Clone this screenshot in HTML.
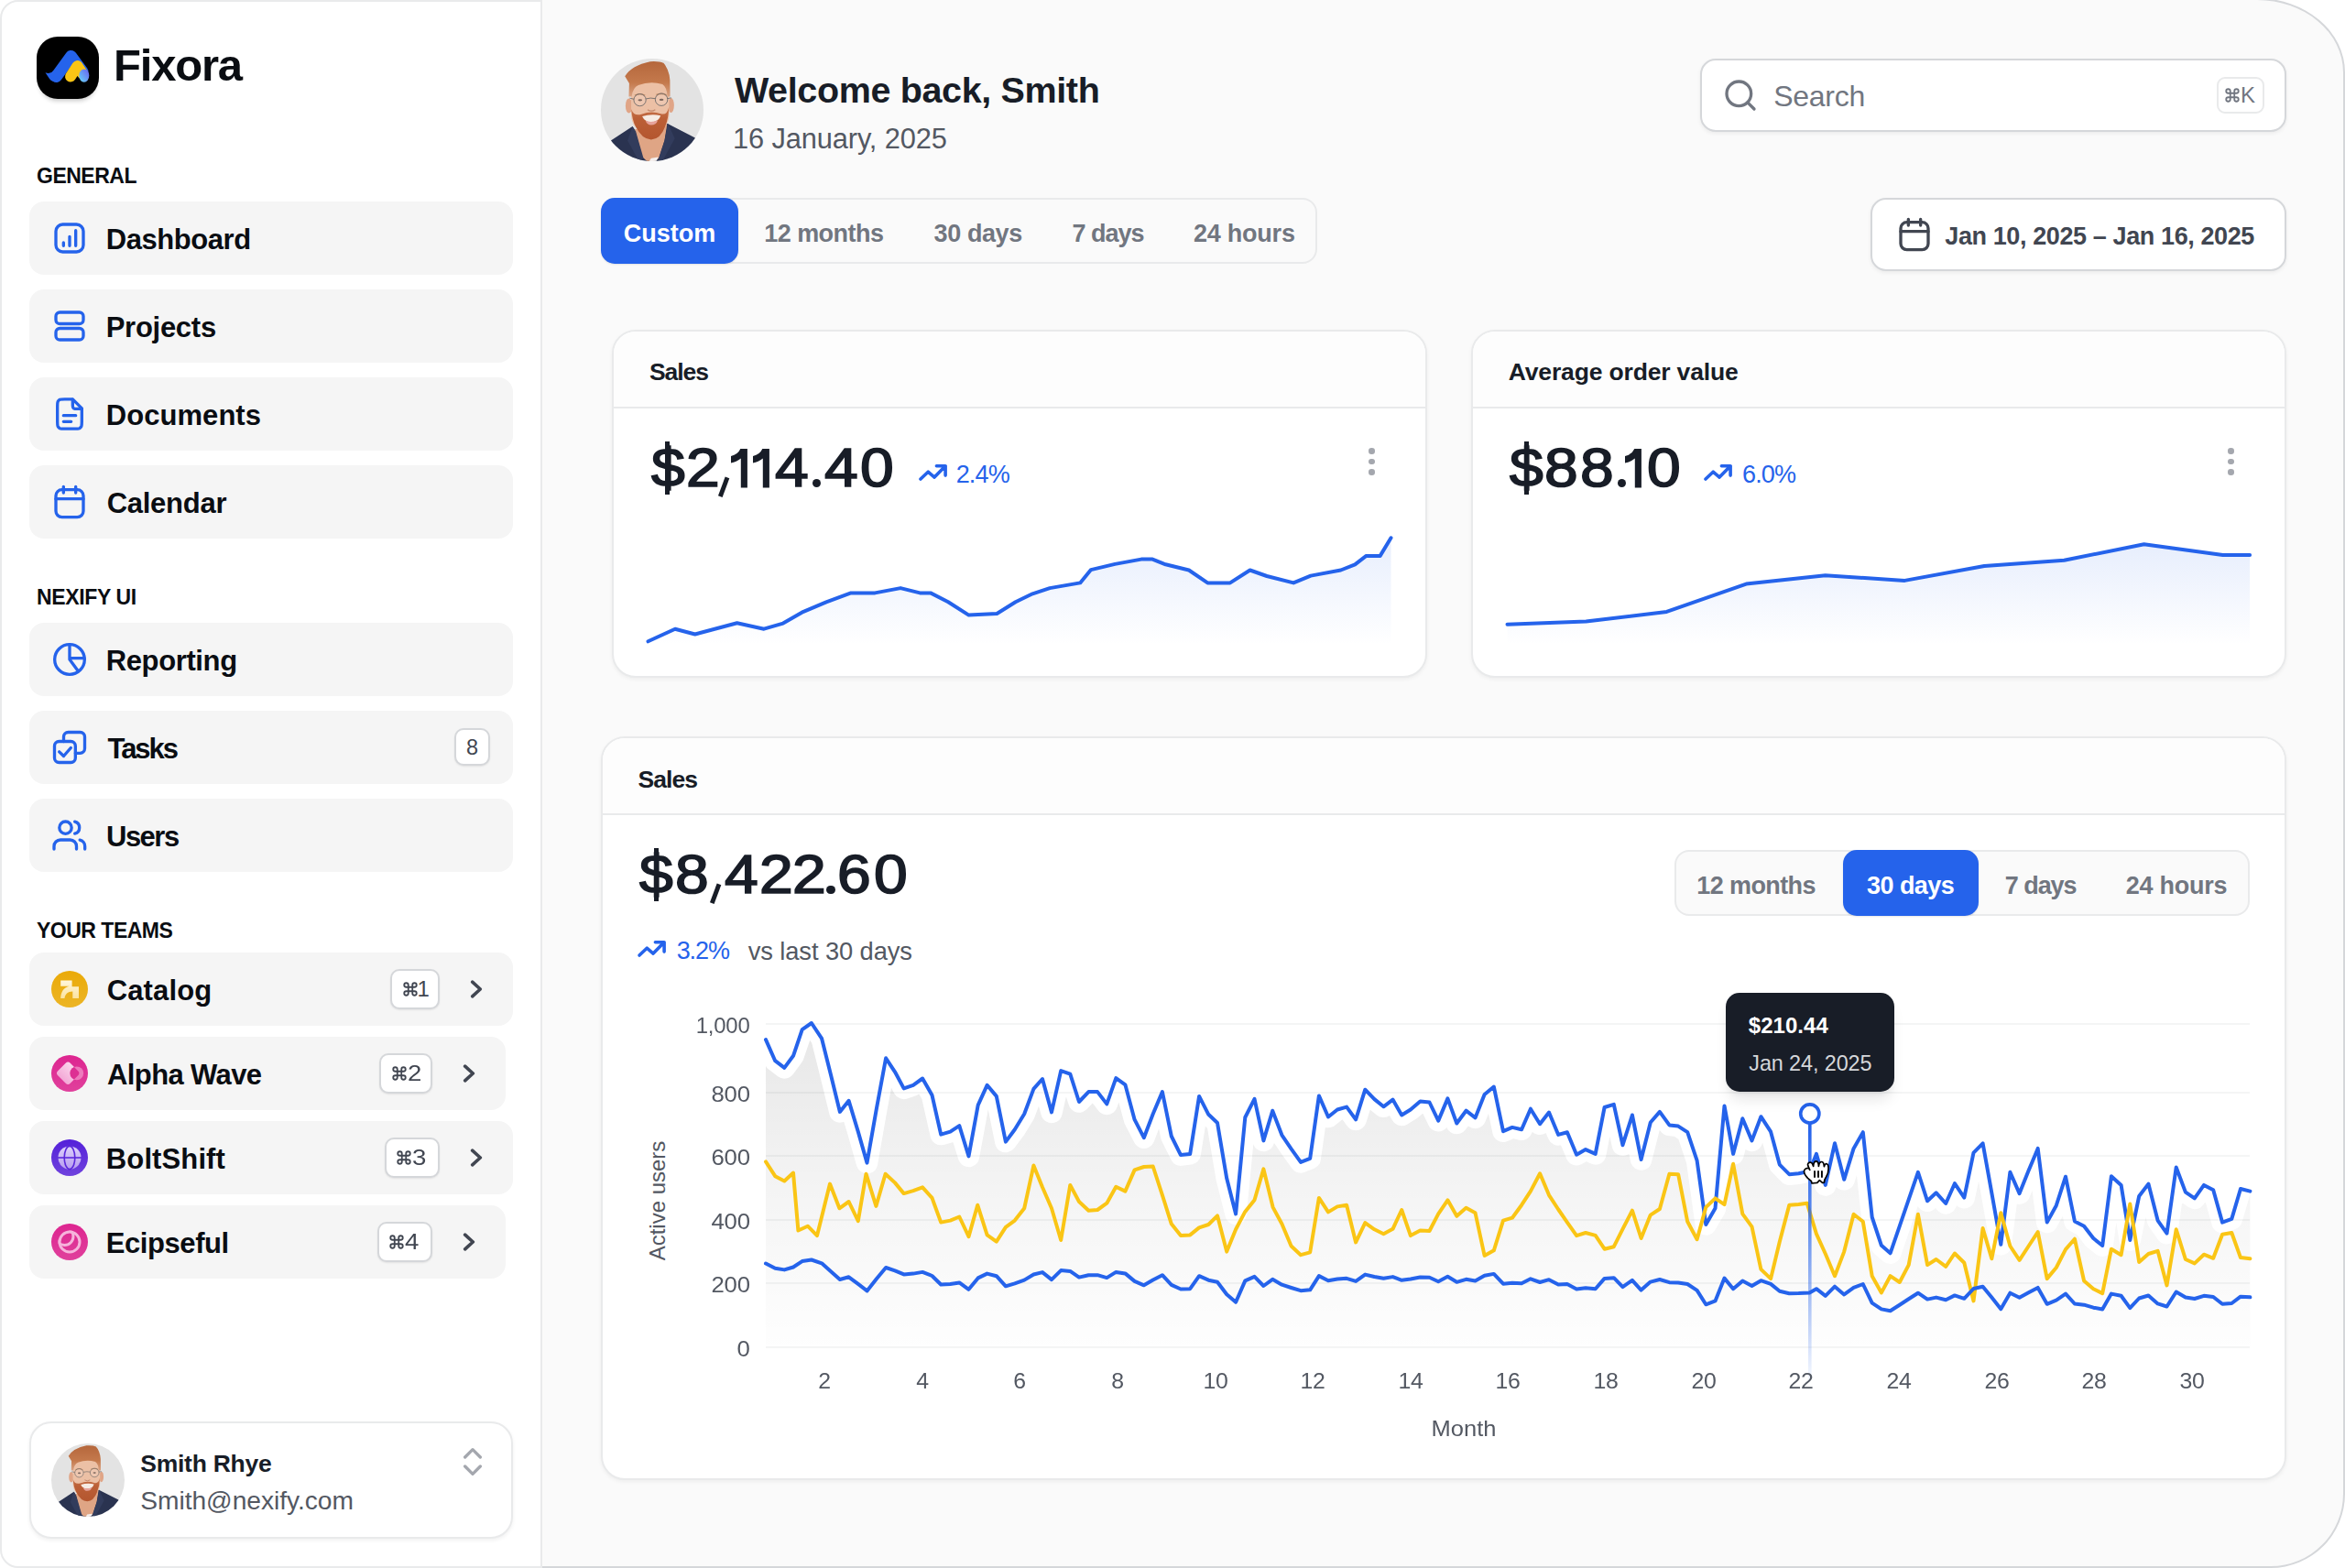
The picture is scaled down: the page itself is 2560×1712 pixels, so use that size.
<!DOCTYPE html>
<html><head><meta charset="utf-8"><title>Fixora Dashboard</title>
<style>
*{box-sizing:border-box;margin:0;padding:0}
html,body{width:2560px;height:1712px;overflow:hidden;background:#fff;font-family:"Liberation Sans",sans-serif}
body{position:relative;font-family:"Liberation Sans",sans-serif;}
.a{position:absolute}
.t{position:absolute;line-height:1;white-space:nowrap}
.nav{position:absolute;left:32px;width:528px;height:80px;background:#f5f5f5;border-radius:16px}
.kbd{position:absolute;background:#fff;border:2px solid #d5d7da;border-radius:10px;box-shadow:0 1px 2px rgba(10,13,18,.08)}
.card{position:absolute;background:#fff;border:2px solid #e9eaeb;border-radius:26px;box-shadow:0 2px 4px rgba(10,13,18,.05);overflow:hidden}
.card .hd{position:absolute;left:0;top:0;right:0;background:#fdfdfd;border-bottom:2px solid #e9eaeb}
</style></head><body>

<div class="a" style="left:590px;top:-2px;width:1970px;height:1714px;background:#fafafa;border:2px solid #d5d7da;border-radius:0 96px 81px 0 / 0 81px 81px 0"></div>
<div class="a" style="left:0;top:0;width:592px;height:1712px;background:#fff;border:2px solid #e9eaeb;border-radius:20px 0 0 20px"></div>
<svg class="a" style="left:34px;top:36px" width="80" height="84" viewBox="-6 -4 80 84">
<defs><linearGradient id="lg1" x1="0" y1="1" x2="1" y2="0"><stop offset="0" stop-color="#67d8f7"/><stop offset="1" stop-color="#6a5cf0"/></linearGradient>
<filter id="ls" x="-20%" y="-20%" width="140%" height="150%"><feGaussianBlur stdDeviation="2.5"/></filter></defs>
<rect x="3" y="8" width="62" height="62" rx="20" fill="#000" opacity=".22" filter="url(#ls)"/>
<rect x="0" y="0" width="68" height="68" rx="23" fill="#000"/>
<path d="M9.5 39.3 Q15 41.5 18.5 37 L24 45 Q18 52 14 46Z" fill="#2563eb"/>
<path d="M21.5 43.5 L37.5 21.5 L50 38.300" stroke="#2563eb" stroke-width="13" stroke-linecap="round" stroke-linejoin="round" fill="none"/>
<path d="M37 43.5 L44.5 32 L50.300 40.800" stroke="#fac515" stroke-width="12" stroke-linecap="round" stroke-linejoin="round" fill="none"/>
<ellipse cx="51.8" cy="42.6" rx="5.5" ry="7.2" fill="url(#lg1)"/>
</svg>
<div class="t" style="left:124px;top:46.95px;font-size:49px;font-weight:700;color:#0a0d12;letter-spacing:-1.2px;">Fixora</div>
<div class="t" style="left:40px;top:181.45px;font-size:23px;font-weight:700;color:#0a0d12;letter-spacing:-0.5px;">GENERAL</div>
<div class="t" style="left:40px;top:641.15px;font-size:23px;font-weight:700;color:#0a0d12;letter-spacing:-0.35px;">NEXIFY UI</div>
<div class="t" style="left:40px;top:1004.85px;font-size:23px;font-weight:700;color:#0a0d12;letter-spacing:-0.5px;">YOUR TEAMS</div>
<div class="nav" style="top:220px"></div>
<svg class="a" style="left:56px;top:240px" width="40" height="40" viewBox="0 0 24 24" fill="none" stroke="#2563eb" stroke-width="2" stroke-linecap="round" stroke-linejoin="round" ><rect x="3" y="3" width="18" height="18" rx="4.5"/><path d="M8 15v2M12 11v6M16 7v10"/></svg>
<div class="t" style="left:115.72999999999999px;top:245.85px;font-size:31px;font-weight:700;color:#0a0d12;letter-spacing:-0.436px;">Dashboard</div>
<div class="nav" style="top:316px"></div>
<svg class="a" style="left:56px;top:336px" width="40" height="40" viewBox="0 0 24 24" fill="none" stroke="#2563eb" stroke-width="2" stroke-linecap="round" stroke-linejoin="round" ><rect x="3" y="3" width="18" height="7.5" rx="2.6"/><rect x="3" y="13.5" width="18" height="7.5" rx="2.6"/></svg>
<div class="t" style="left:115.72999999999999px;top:341.85px;font-size:31px;font-weight:700;color:#0a0d12;letter-spacing:-0.276px;">Projects</div>
<div class="nav" style="top:412px"></div>
<svg class="a" style="left:56px;top:432px" width="40" height="40" viewBox="0 0 24 24" fill="none" stroke="#2563eb" stroke-width="2" stroke-linecap="round" stroke-linejoin="round" ><path d="M14 2.3H8.8c-1.7 0-2.5 0-3.2.3a3 3 0 0 0-1.3 1.3C4 4.6 4 5.4 4 7.100v9.800c0 1.700 0 2.500.3 3.200a3 3 0 0 0 1.300 1.300c.7.300 1.500.300 3.200.300h6.400c1.700 0 2.500 0 3.200-.300a3 3 0 0 0 1.300-1.300c.3-.7.300-1.500.300-3.200V8.300L14 2.300Z"/><path d="M14 2.500V6c0 .9 0 1.400.2 1.700.2.300.4.500.700.700.4.200.8.200 1.700.200h3.200"/><path d="M8 13h8M8 17h5"/></svg>
<div class="t" style="left:115.72999999999999px;top:437.85px;font-size:31px;font-weight:700;color:#0a0d12;letter-spacing:0.059px;">Documents</div>
<div class="nav" style="top:508px"></div>
<svg class="a" style="left:56px;top:528px" width="40" height="40" viewBox="0 0 24 24" fill="none" stroke="#2563eb" stroke-width="2" stroke-linecap="round" stroke-linejoin="round" ><rect x="3" y="4" width="18" height="18" rx="4"/><path d="M3 10h18M8 2v4M16 2v4"/></svg>
<div class="t" style="left:116.66px;top:533.85px;font-size:31px;font-weight:700;color:#0a0d12;letter-spacing:-0.26px;">Calendar</div>
<div class="nav" style="top:680px"></div>
<svg class="a" style="left:56px;top:700px" width="40" height="40" viewBox="0 0 24 24" fill="none" stroke="#2563eb" stroke-width="2" stroke-linecap="round" stroke-linejoin="round" ><circle cx="12" cy="12" r="9.800"/><path d="M12 2.200V12l5.600 7.700M12 11.200h9.700"/></svg>
<div class="t" style="left:115.72999999999999px;top:705.85px;font-size:31px;font-weight:700;color:#0a0d12;letter-spacing:-0.372px;">Reporting</div>
<div class="nav" style="top:776px"></div>
<svg class="a" style="left:56px;top:796px" width="40" height="40" viewBox="0 0 24 24" fill="none" stroke="#2563eb" stroke-width="2" stroke-linecap="round" stroke-linejoin="round" ><path d="M8.100 8.100V5.100a3 3 0 0 1 3-3h7.800a3 3 0 0 1 3 3v7.700a3 3 0 0 1-3 3h-3.100"/><rect x="2.100" y="8.100" width="13.700" height="13.800" rx="3"/><path d="M5.200 14.900l2.900 2.800 4.700-5.400"/></svg>
<div class="t" style="left:117.58999999999999px;top:801.85px;font-size:31px;font-weight:700;color:#0a0d12;letter-spacing:-2.052px;">Tasks</div>
<div class="nav" style="top:872px"></div>
<svg class="a" style="left:56px;top:892px" width="40" height="40" viewBox="0 0 24 24" fill="none" stroke="#2563eb" stroke-width="2" stroke-linecap="round" stroke-linejoin="round" ><path d="M16.500 21v-1.800a4.200 4.200 0 0 0-4.200-4.200H6a4.200 4.200 0 0 0-4.200 4.200V21"/><circle cx="9.300" cy="7" r="4"/><path d="M22 21v-1.800a4.200 4.200 0 0 0-3.300-4.100"/><path d="M15.400 3.130a4 4 0 0 1 0 7.750"/></svg>
<div class="t" style="left:116.03999999999999px;top:897.85px;font-size:31px;font-weight:700;color:#0a0d12;letter-spacing:-1.52px;">Users</div>
<div class="kbd" style="left:496px;top:795px;width:39px;height:41px"></div>
<div class="t" style="left:215.5px;width:600px;text-align:center;top:805.32px;font-size:23.5px;font-weight:400;color:#414651;">8</div>
<div class="nav" style="top:1040px;width:528px"></div>
<svg class="a" style="left:56px;top:1060px" width="40" height="40" viewBox="0 0 40 40"><defs><linearGradient id="g1" x1="0" y1="0" x2="0" y2="1"><stop offset="0" stop-color="#eaaa08"/><stop offset="1" stop-color="#ecb526"/></linearGradient><linearGradient id="g1b" x1="0" y1="0" x2="0" y2="1"><stop offset="0" stop-color="#fff6dc"/><stop offset="1" stop-color="#fbe3a0"/></linearGradient></defs><circle cx="20" cy="20" r="20" fill="url(#g1)"/><path d="M10.200 10.500H22.600V17.200H30V30H23.300V22.500C18 22.600 15 25.500 14.500 30H10.200C10.400 23 13.500 18.500 19.500 16.800H10.200Z" fill="url(#g1b)"/></svg>
<div class="t" style="left:116.76px;top:1065.95px;font-size:31px;font-weight:700;color:#0a0d12;letter-spacing:0.123px;">Catalog</div>
<div class="kbd" style="left:426px;top:1058px;width:54px;height:44px"></div>
<svg class="a" style="left:438.5px;top:1071px" width="18" height="18" viewBox="0 0 24 24" fill="none" stroke="#414651" stroke-width="2.400" stroke-linecap="round" stroke-linejoin="round"><path d="M15 6v12a3 3 0 1 0 3-3H6a3 3 0 1 0 3 3V6a3 3 0 1 0-3 3h12a3 3 0 1 0-3-3"/></svg>
<div class="t" style="left:455.5px;top:1068.10px;font-size:24px;font-weight:400;color:#414651;">1</div>
<svg class="a" style="left:500.29999999999995px;top:1060px" width="40" height="40" viewBox="0 0 24 24" fill="none" stroke="#414651" stroke-width="2.15" stroke-linecap="round" stroke-linejoin="round" ><path d="M9.400 16.700L14.600 12L9.400 7.300"/></svg>
<div class="nav" style="top:1132px;width:520px"></div>
<svg class="a" style="left:56px;top:1152px" width="40" height="40" viewBox="0 0 40 40"><defs><linearGradient id="g2" x1="0" y1="0" x2="0" y2="1"><stop offset="0" stop-color="#dd2590"/><stop offset="1" stop-color="#e0409c"/></linearGradient><linearGradient id="g2b" x1="0" y1="0" x2="0" y2="1"><stop offset="0" stop-color="#fbd5ec"/><stop offset="1" stop-color="#f3a8d6"/></linearGradient><clipPath id="c2"><rect x="8.600" y="10.200" width="19.200" height="19.200" rx="3.600" transform="rotate(45 18.200 19.800)"/></clipPath></defs><circle cx="20" cy="20" r="20" fill="url(#g2)"/><rect x="8.600" y="10.200" width="19.200" height="19.200" rx="3.600" transform="rotate(45 18.200 19.800)" fill="url(#g2b)"/><circle cx="27.800" cy="19.800" r="7.400" fill="#f08cc6" opacity=".8"/><circle cx="27.800" cy="19.800" r="7.400" fill="#dd2f93" clip-path="url(#c2)"/></svg>
<div class="t" style="left:117.07px;top:1157.95px;font-size:31px;font-weight:700;color:#0a0d12;letter-spacing:-0.619px;">Alpha Wave</div>
<div class="kbd" style="left:414px;top:1150px;width:58px;height:44px"></div>
<svg class="a" style="left:426.5px;top:1163px" width="18" height="18" viewBox="0 0 24 24" fill="none" stroke="#414651" stroke-width="2.400" stroke-linecap="round" stroke-linejoin="round"><path d="M15 6v12a3 3 0 1 0 3-3H6a3 3 0 1 0 3 3V6a3 3 0 1 0-3 3h12a3 3 0 1 0-3-3"/></svg>
<div class="t" style="left:444.5px;top:1160.10px;font-size:24px;font-weight:400;color:#414651;transform:scaleX(1.15);transform-origin:0 50%;">2</div>
<svg class="a" style="left:492.29999999999995px;top:1152px" width="40" height="40" viewBox="0 0 24 24" fill="none" stroke="#414651" stroke-width="2.15" stroke-linecap="round" stroke-linejoin="round" ><path d="M9.400 16.700L14.600 12L9.400 7.300"/></svg>
<div class="nav" style="top:1224px;width:528px"></div>
<svg class="a" style="left:56px;top:1244px" width="40" height="40" viewBox="0 0 40 40"><defs><linearGradient id="g3" x1="0" y1="0" x2="0" y2="1"><stop offset="0" stop-color="#5420d9"/><stop offset="1" stop-color="#6f42dd"/></linearGradient><linearGradient id="g3b" x1="0" y1="0" x2="0" y2="1"><stop offset="0" stop-color="#ddd1fb"/><stop offset="1" stop-color="#b79cf0"/></linearGradient></defs><circle cx="20" cy="20" r="20" fill="url(#g3)"/><circle cx="20" cy="20" r="12.600" fill="url(#g3b)"/><ellipse cx="20" cy="20" rx="5.800" ry="12.600" fill="none" stroke="#5b28db" stroke-width="1.600"/><path d="M7 20H33" stroke="#5b28db" stroke-width="1.600"/></svg>
<div class="t" style="left:115.83px;top:1249.95px;font-size:31px;font-weight:700;color:#0a0d12;letter-spacing:0.115px;">BoltShift</div>
<div class="kbd" style="left:419.5px;top:1242px;width:60.5px;height:44px"></div>
<svg class="a" style="left:432.0px;top:1255px" width="18" height="18" viewBox="0 0 24 24" fill="none" stroke="#414651" stroke-width="2.400" stroke-linecap="round" stroke-linejoin="round"><path d="M15 6v12a3 3 0 1 0 3-3H6a3 3 0 1 0 3 3V6a3 3 0 1 0-3 3h12a3 3 0 1 0-3-3"/></svg>
<div class="t" style="left:450.0px;top:1252.10px;font-size:24px;font-weight:400;color:#414651;transform:scaleX(1.15);transform-origin:0 50%;">3</div>
<svg class="a" style="left:500.29999999999995px;top:1244px" width="40" height="40" viewBox="0 0 24 24" fill="none" stroke="#414651" stroke-width="2.15" stroke-linecap="round" stroke-linejoin="round" ><path d="M9.400 16.700L14.600 12L9.400 7.300"/></svg>
<div class="nav" style="top:1316px;width:520px"></div>
<svg class="a" style="left:56px;top:1336px" width="40" height="40" viewBox="0 0 40 40"><defs><linearGradient id="g4" x1="0" y1="0" x2="0" y2="1"><stop offset="0" stop-color="#dd2590"/><stop offset="1" stop-color="#e0409c"/></linearGradient><clipPath id="c4"><circle cx="20" cy="20" r="12.500"/></clipPath></defs><circle cx="20" cy="20" r="20" fill="url(#g4)"/><circle cx="20" cy="20" r="11" fill="none" stroke="#f6b3db" stroke-width="3"/><circle cx="14.500" cy="14" r="9.500" fill="none" stroke="#f6b3db" stroke-width="3" clip-path="url(#c4)"/></svg>
<div class="t" style="left:115.83px;top:1341.95px;font-size:31px;font-weight:700;color:#0a0d12;letter-spacing:-0.437px;">Ecipseful</div>
<div class="kbd" style="left:411.5px;top:1334px;width:60.5px;height:44px"></div>
<svg class="a" style="left:424.0px;top:1347px" width="18" height="18" viewBox="0 0 24 24" fill="none" stroke="#414651" stroke-width="2.400" stroke-linecap="round" stroke-linejoin="round"><path d="M15 6v12a3 3 0 1 0 3-3H6a3 3 0 1 0 3 3V6a3 3 0 1 0-3 3h12a3 3 0 1 0-3-3"/></svg>
<div class="t" style="left:442.0px;top:1344.10px;font-size:24px;font-weight:400;color:#414651;transform:scaleX(1.15);transform-origin:0 50%;">4</div>
<svg class="a" style="left:492.29999999999995px;top:1336px" width="40" height="40" viewBox="0 0 24 24" fill="none" stroke="#414651" stroke-width="2.15" stroke-linecap="round" stroke-linejoin="round" ><path d="M9.400 16.700L14.600 12L9.400 7.300"/></svg>
<div class="a" style="left:32px;top:1552px;width:528px;height:128px;background:#fff;border:2px solid #e9eaeb;border-radius:24px;box-shadow:0 2px 4px rgba(10,13,18,.06)"></div>
<svg class="a" style="left:56px;top:1576px" width="80" height="80" viewBox="0 0 100 100"><defs><clipPath id="ava"><circle cx="50" cy="50" r="50"/></clipPath>
<linearGradient id="hra" x1="0" y1="0" x2="0" y2="1"><stop offset="0" stop-color="#b5673c"/><stop offset=".6" stop-color="#c4794c"/><stop offset="1" stop-color="#d9a384"/></linearGradient>
<linearGradient id="bda" x1="0" y1="0" x2="0" y2="1"><stop offset="0" stop-color="#c9784f"/><stop offset=".35" stop-color="#bb5f36"/><stop offset="1" stop-color="#b4562f"/></linearGradient></defs>
<g clip-path="url(#ava)"><rect width="100" height="100" fill="#e3e3e3"/>
<path d="M0 100V87L10 79.700L30.800 66L34 71L65 63.500L91 76.700L100 83V100Z" fill="#2a3350"/>
<path d="M33 69L64.500 64L62 80L56.500 97L52 100H45L40.500 96Z" fill="#dfa585"/>
<path d="M49 97L56 96L54 100H47Z" fill="#f4f0ee"/>
<path d="M30.800 66L34 71L41.500 97L37 100L26 80Z" fill="#323c5c"/><path d="M65.400 63.200L62 80L56 98L60 100L72 78Z" fill="#323c5c"/>
<ellipse cx="27.300" cy="46" rx="3.300" ry="7.200" fill="#e0a587"/><ellipse cx="68.300" cy="45.500" rx="3" ry="7.200" fill="#e0a587"/>
<path d="M29.500 30Q30 21 48 21Q66 21 66.500 30V55Q66 70 48 75Q30 70 29.500 55Z" fill="#ecc0a5"/>
<path d="M27.200 37L27.600 24L23.400 17.200Q30 6.500 48 2.900Q57 2.300 61 4.500L60 3Q66.500 10 67.300 21L67.500 37L64.700 37Q64.500 28 60 25Q48 21.500 36.500 26Q31 28.500 30 37Z" fill="url(#hra)"/>
<path d="M29.600 49Q30.500 60 34 66.500Q40 78.500 49 79Q58 78.500 62.500 66.500Q66 58 66.300 47Q64.500 55.500 58.500 53.800Q49 50.500 39.500 54.300Q32 56.500 29.600 49Z" fill="url(#bda)"/>
<path d="M40.300 56.200Q49 53.800 58.200 55.500Q56.500 61.500 49 62Q42.500 61.500 40.300 56.200Z" fill="#f6ece4"/>
<path d="M43.500 60.500Q49 62.800 55.500 60Q54 64.800 49 64.800Q45 64.800 43.500 60.500Z" fill="#e6a29a"/>
<path d="M33 35.800Q38 33.600 43 35.800M54 35.300Q59 33.300 64 35.400" stroke="#c08a66" stroke-width="1.300" fill="none"/>
<ellipse cx="38.200" cy="40.500" rx="2.100" ry="1" fill="#6b5348"/><ellipse cx="59" cy="40.100" rx="2.100" ry="1" fill="#6b5348"/>
<path d="M45.500 49.800Q49 52.300 53 49.800" stroke="#c48a6e" stroke-width="1.200" fill="none"/>
<circle cx="38" cy="40.300" r="5.900" fill="#fff" fill-opacity=".12" stroke="#5d5d60" stroke-width=".7"/><circle cx="59" cy="39.900" r="6" fill="#fff" fill-opacity=".12" stroke="#5d5d60" stroke-width=".7"/><path d="M43.900 39.200Q48.500 37.800 53 39M32.100 39.500L28 38.500M65 39L68.500 38.200" stroke="#5d5d60" stroke-width=".7" fill="none"/>
</g></svg>
<div class="t" style="left:153.30500000000004px;top:1585.07px;font-size:26.5px;font-weight:700;color:#181d27;letter-spacing:-0.262px;">Smith Rhye</div>
<div class="t" style="left:153.25400000000002px;top:1624.23px;font-size:28.2px;font-weight:400;color:#535862;letter-spacing:-0.045px;">Smith@nexify.com</div>
<svg class="a" style="left:496px;top:1576px" width="40" height="40" viewBox="0 0 24 24" fill="none" stroke="#a4a7ae" stroke-width="2" stroke-linecap="round" stroke-linejoin="round" ><path d="M7 15l5 5 5-5M7 9l5-5 5 5"/></svg>
<svg class="a" style="left:656px;top:64px" width="112" height="112" viewBox="0 0 100 100"><defs><clipPath id="avb"><circle cx="50" cy="50" r="50"/></clipPath>
<linearGradient id="hrb" x1="0" y1="0" x2="0" y2="1"><stop offset="0" stop-color="#b5673c"/><stop offset=".6" stop-color="#c4794c"/><stop offset="1" stop-color="#d9a384"/></linearGradient>
<linearGradient id="bdb" x1="0" y1="0" x2="0" y2="1"><stop offset="0" stop-color="#c9784f"/><stop offset=".35" stop-color="#bb5f36"/><stop offset="1" stop-color="#b4562f"/></linearGradient></defs>
<g clip-path="url(#avb)"><rect width="100" height="100" fill="#e3e3e3"/>
<path d="M0 100V87L10 79.700L30.800 66L34 71L65 63.500L91 76.700L100 83V100Z" fill="#2a3350"/>
<path d="M33 69L64.500 64L62 80L56.500 97L52 100H45L40.500 96Z" fill="#dfa585"/>
<path d="M49 97L56 96L54 100H47Z" fill="#f4f0ee"/>
<path d="M30.800 66L34 71L41.500 97L37 100L26 80Z" fill="#323c5c"/><path d="M65.400 63.200L62 80L56 98L60 100L72 78Z" fill="#323c5c"/>
<ellipse cx="27.300" cy="46" rx="3.300" ry="7.200" fill="#e0a587"/><ellipse cx="68.300" cy="45.500" rx="3" ry="7.200" fill="#e0a587"/>
<path d="M29.500 30Q30 21 48 21Q66 21 66.500 30V55Q66 70 48 75Q30 70 29.500 55Z" fill="#ecc0a5"/>
<path d="M27.200 37L27.600 24L23.400 17.200Q30 6.500 48 2.900Q57 2.300 61 4.500L60 3Q66.500 10 67.300 21L67.500 37L64.700 37Q64.500 28 60 25Q48 21.500 36.500 26Q31 28.500 30 37Z" fill="url(#hrb)"/>
<path d="M29.600 49Q30.500 60 34 66.500Q40 78.500 49 79Q58 78.500 62.500 66.500Q66 58 66.300 47Q64.500 55.500 58.500 53.800Q49 50.500 39.500 54.300Q32 56.500 29.600 49Z" fill="url(#bdb)"/>
<path d="M40.300 56.200Q49 53.800 58.200 55.500Q56.500 61.500 49 62Q42.500 61.500 40.300 56.200Z" fill="#f6ece4"/>
<path d="M43.500 60.500Q49 62.800 55.500 60Q54 64.800 49 64.800Q45 64.800 43.500 60.500Z" fill="#e6a29a"/>
<path d="M33 35.800Q38 33.600 43 35.800M54 35.300Q59 33.300 64 35.400" stroke="#c08a66" stroke-width="1.300" fill="none"/>
<ellipse cx="38.200" cy="40.500" rx="2.100" ry="1" fill="#6b5348"/><ellipse cx="59" cy="40.100" rx="2.100" ry="1" fill="#6b5348"/>
<path d="M45.500 49.800Q49 52.300 53 49.800" stroke="#c48a6e" stroke-width="1.200" fill="none"/>
<circle cx="38" cy="40.300" r="5.900" fill="#fff" fill-opacity=".12" stroke="#5d5d60" stroke-width=".7"/><circle cx="59" cy="39.900" r="6" fill="#fff" fill-opacity=".12" stroke="#5d5d60" stroke-width=".7"/><path d="M43.900 39.200Q48.500 37.800 53 39M32.100 39.500L28 38.500M65 39L68.500 38.200" stroke="#5d5d60" stroke-width=".7" fill="none"/>
</g></svg>
<div class="t" style="left:801.9px;top:78.93px;font-size:39.5px;font-weight:700;color:#181d27;letter-spacing:-0.361px;">Welcome back, Smith</div>
<div class="t" style="left:800.052px;top:136.82px;font-size:30.8px;font-weight:400;color:#535862;letter-spacing:-0.127px;">16 January, 2025</div>
<div class="a" style="left:1856px;top:64px;width:640px;height:80px;background:#fff;border:2px solid #d5d7da;border-radius:17px;box-shadow:0 2px 4px rgba(10,13,18,.06)"></div>
<svg class="a" style="left:1880.2px;top:83.8px" width="40" height="40" viewBox="0 0 24 24" fill="none" stroke="#717680" stroke-width="2" stroke-linecap="round" stroke-linejoin="round" ><circle cx="11" cy="11" r="8"/><path d="M21 21l-4.300-4.300"/></svg>
<div class="t" style="left:1936.34px;top:88.60px;font-size:32px;font-weight:400;color:#717680;letter-spacing:-0.298px;">Search</div>
<div class="a" style="left:2420px;top:84px;width:52px;height:40px;background:#fff;border:2px solid #e9eaeb;border-radius:9px"></div>
<svg class="a" style="left:2427.500px;top:95px" width="18" height="18" viewBox="0 0 24 24" fill="none" stroke="#717680" stroke-width="2.400" stroke-linecap="round" stroke-linejoin="round"><path d="M15 6v12a3 3 0 1 0 3-3H6a3 3 0 1 0 3 3V6a3 3 0 1 0-3 3h12a3 3 0 1 0-3-3"/></svg>
<div class="t" style="left:2446px;top:92.40px;font-size:24px;font-weight:400;color:#717680;">K</div>
<div class="a" style="left:656px;top:216px;width:782px;height:72px;background:#fafafa;border:2px solid #e9eaeb;border-radius:16px"></div>
<div class="a" style="left:656px;top:216px;width:150px;height:72px;background:#2563eb;border-radius:15px;box-shadow:0 1px 2px rgba(10,13,18,.1)"></div>
<div class="t" style="left:680.8199999999999px;top:242.45px;font-size:27px;font-weight:700;color:#fff;letter-spacing:-0.028px;">Custom</div>
<div class="t" style="left:834.28px;top:242.45px;font-size:27px;font-weight:700;color:#717680;letter-spacing:-0.55px;">12 months</div>
<div class="t" style="left:1019.56px;top:242.45px;font-size:27px;font-weight:700;color:#717680;letter-spacing:-0.395px;">30 days</div>
<div class="t" style="left:1170.52px;top:242.45px;font-size:27px;font-weight:700;color:#717680;letter-spacing:-1.022px;">7 days</div>
<div class="t" style="left:1302.99px;top:242.45px;font-size:27px;font-weight:700;color:#717680;letter-spacing:-0.229px;">24 hours</div>
<div class="a" style="left:2042px;top:216px;width:454px;height:80px;background:#fff;border:2px solid #d5d7da;border-radius:17px;box-shadow:0 2px 4px rgba(10,13,18,.06)"></div>
<svg class="a" style="left:2069.6px;top:236px" width="40" height="40" viewBox="0 0 24 24" fill="none" stroke="#414651" stroke-width="2" stroke-linecap="round" stroke-linejoin="round" ><rect x="3" y="4" width="18" height="18" rx="4"/><path d="M3 10h18M8 2v4M16 2v4"/></svg>
<div class="t" style="left:2123.26px;top:245.45px;font-size:27px;font-weight:700;color:#414651;letter-spacing:-0.39px;">Jan 10, 2025 – Jan 16, 2025</div>
<div class="card" style="left:668px;top:360px;width:890px;height:380px"><div class="hd" style="height:84px"></div>
<svg class="a" style="left:-2px;top:-2px" width="890" height="380"><defs><linearGradient id="sg1" gradientUnits="userSpaceOnUse" x1="0" y1="227.3" x2="0" y2="344.3"><stop offset="0" stop-color="#2563eb" stop-opacity=".11"/><stop offset="1" stop-color="#2563eb" stop-opacity="0"/></linearGradient></defs><path d="M39.5 340.3 L69.0 326.7 L90.7 332.5 L136.6 320.2 L166.0 326.7 L186.9 320.6 L207.4 308.7 L234.0 297.3 L261.0 287.4 L287.2 287.4 L315.1 282.1 L336.3 287.4 L347.8 287.4 L367.1 297.3 L389.6 311.6 L420.3 310.0 L440.7 297.3 L459.2 288.3 L478.0 282.1 L511.2 276.4 L523.0 262.1 L549.2 255.9 L577.9 250.6 L590.2 250.6 L604.5 256.3 L629.9 262.5 L650.3 276.4 L674.9 276.4 L696.6 262.5 L715.0 269.0 L744.1 276.4 L762.9 268.6 L795.7 262.5 L811.2 256.3 L823.5 246.9 L838.7 246.9 L850.5 227.3 L850.5 344.3 L39.5 344.3Z" fill="url(#sg1)"/><path d="M39.5 340.3 L69.0 326.7 L90.7 332.5 L136.6 320.2 L166.0 326.7 L186.9 320.6 L207.4 308.7 L234.0 297.3 L261.0 287.4 L287.2 287.4 L315.1 282.1 L336.3 287.4 L347.8 287.4 L367.1 297.3 L389.6 311.6 L420.3 310.0 L440.7 297.3 L459.2 288.3 L478.0 282.1 L511.2 276.4 L523.0 262.1 L549.2 255.9 L577.9 250.6 L590.2 250.6 L604.5 256.3 L629.9 262.5 L650.3 276.4 L674.9 276.4 L696.6 262.5 L715.0 269.0 L744.1 276.4 L762.9 268.6 L795.7 262.5 L811.2 256.3 L823.5 246.9 L838.7 246.9 L850.5 227.3" fill="none" stroke="#2563eb" stroke-width="4" stroke-linecap="round" stroke-linejoin="round"/></svg></div>
<div class="t" style="left:708.905px;top:393.18px;font-size:26.5px;font-weight:700;color:#181d27;letter-spacing:-1.027px;">Sales</div>
<div class="t" style="left:710.5px;top:480.9px;font-size:60px;color:#181d27;-webkit-text-stroke:1.700px #181d27;transform:scaleX(1.100);transform-origin:0 0">$</div>
<div class="a" style="left:725.9px;top:482.2px;width:5.300px;height:57.600px;background:#181d27"></div>
<div class="t" style="left:748.9px;top:480.9px;font-size:60px;color:#181d27;-webkit-text-stroke:1.700px #181d27;transform:scaleX(1.100);transform-origin:0 0">2</div>
<svg class="a" style="left:784.4px;top:520.1px" width="14" height="24" viewBox="0 0 14 24"><path d="M7.700 0.500L12.300 2.200L4.600 23L0 21.300Z" fill="#181d27"/></svg>
<svg class="a" style="left:797.9px;top:489.7px" width="19" height="43" viewBox="0 0 19 43"><path d="M10.300 0H17.900V42.400H10.800V10.600Q6 14.600 0 15.400V7.900Q7.600 6.300 10.300 0Z" fill="#181d27"/></svg>
<svg class="a" style="left:822.2px;top:489.7px" width="19" height="43" viewBox="0 0 19 43"><path d="M10.300 0H17.900V42.400H10.800V10.600Q6 14.600 0 15.400V7.900Q7.600 6.300 10.300 0Z" fill="#181d27"/></svg>
<div class="t" style="left:846.1px;top:480.9px;font-size:60px;color:#181d27;-webkit-text-stroke:1.700px #181d27;transform:scaleX(1.100);transform-origin:0 0">4</div>
<div class="a" style="left:887.0px;top:523.0px;width:9.400px;height:9.400px;border-radius:50%;background:#181d27"></div>
<div class="t" style="left:899.8px;top:480.9px;font-size:60px;color:#181d27;-webkit-text-stroke:1.700px #181d27;transform:scaleX(1.100);transform-origin:0 0">4</div>
<div class="t" style="left:939.1px;top:480.9px;font-size:60px;color:#181d27;-webkit-text-stroke:1.700px #181d27;transform:scaleX(1.100);transform-origin:0 0">0</div>
<svg class="a" style="left:1001.3px;top:503.2px" width="36" height="26" viewBox="-4 -20 36 26" fill="none" stroke="#2563eb" stroke-width="3.600" stroke-linecap="round" stroke-linejoin="round"><path d="M0 0L8.200 -7.800L15.100 -1.900L27.100 -14.200M17.400 -14.200H27.100V-3.900"/></svg>
<div class="t" style="left:1043.69px;top:504.85px;font-size:27px;font-weight:400;color:#2563eb;letter-spacing:-0.864px;">2.4%</div>
<div class="a" style="left:1494.4px;top:489.4px;width:6.600px;height:6.600px;border-radius:50%;background:#a4a7ae"></div>
<div class="a" style="left:1494.4px;top:500.9px;width:6.600px;height:6.600px;border-radius:50%;background:#a4a7ae"></div>
<div class="a" style="left:1494.4px;top:512.3000000000001px;width:6.600px;height:6.600px;border-radius:50%;background:#a4a7ae"></div>
<div class="card" style="left:1606px;top:360px;width:890px;height:380px"><div class="hd" style="height:84px"></div>
<svg class="a" style="left:-2px;top:-2px" width="890" height="380"><defs><linearGradient id="sg2" gradientUnits="userSpaceOnUse" x1="0" y1="234.2" x2="0" y2="344.3"><stop offset="0" stop-color="#2563eb" stop-opacity=".11"/><stop offset="1" stop-color="#2563eb" stop-opacity="0"/></linearGradient></defs><path d="M39.5 321.8 L125.5 318.6 L213.5 307.9 L300.3 277.6 L386.7 268.2 L473.4 273.9 L560.2 258.0 L647.4 251.8 L734.6 234.2 L820.6 246.1 L850.1 246.1 L850.1 344.3 L39.5 344.3Z" fill="url(#sg2)"/><path d="M39.5 321.8 L125.5 318.6 L213.5 307.9 L300.3 277.6 L386.7 268.2 L473.4 273.9 L560.2 258.0 L647.4 251.8 L734.6 234.2 L820.6 246.1 L850.1 246.1" fill="none" stroke="#2563eb" stroke-width="4" stroke-linecap="round" stroke-linejoin="round"/></svg></div>
<div class="t" style="left:1646.8049999999998px;top:393.18px;font-size:26.5px;font-weight:700;color:#181d27;letter-spacing:-0.162px;">Average order value</div>
<div class="t" style="left:1648.3px;top:480.9px;font-size:60px;color:#181d27;-webkit-text-stroke:1.700px #181d27;transform:scaleX(1.100);transform-origin:0 0">$</div>
<div class="a" style="left:1663.7px;top:482.2px;width:5.300px;height:57.600px;background:#181d27"></div>
<div class="t" style="left:1686.4px;top:480.9px;font-size:60px;color:#181d27;-webkit-text-stroke:1.700px #181d27;transform:scaleX(1.100);transform-origin:0 0">8</div>
<div class="t" style="left:1725.4px;top:480.9px;font-size:60px;color:#181d27;-webkit-text-stroke:1.700px #181d27;transform:scaleX(1.100);transform-origin:0 0">8</div>
<div class="a" style="left:1766.0px;top:523.0px;width:9.400px;height:9.400px;border-radius:50%;background:#181d27"></div>
<svg class="a" style="left:1774.3px;top:489.7px" width="19" height="43" viewBox="0 0 19 43"><path d="M10.300 0H17.900V42.400H10.800V10.600Q6 14.600 0 15.400V7.900Q7.600 6.300 10.300 0Z" fill="#181d27"/></svg>
<div class="t" style="left:1797.7px;top:480.9px;font-size:60px;color:#181d27;-webkit-text-stroke:1.700px #181d27;transform:scaleX(1.100);transform-origin:0 0">0</div>
<svg class="a" style="left:1858.1px;top:503.2px" width="36" height="26" viewBox="-4 -20 36 26" fill="none" stroke="#2563eb" stroke-width="3.600" stroke-linecap="round" stroke-linejoin="round"><path d="M0 0L8.200 -7.800L15.100 -1.900L27.100 -14.200M17.400 -14.200H27.100V-3.900"/></svg>
<div class="t" style="left:1902.09px;top:504.85px;font-size:27px;font-weight:400;color:#2563eb;letter-spacing:-0.864px;">6.0%</div>
<div class="a" style="left:2432.2999999999997px;top:489.4px;width:6.600px;height:6.600px;border-radius:50%;background:#a4a7ae"></div>
<div class="a" style="left:2432.2999999999997px;top:500.9px;width:6.600px;height:6.600px;border-radius:50%;background:#a4a7ae"></div>
<div class="a" style="left:2432.2999999999997px;top:512.3000000000001px;width:6.600px;height:6.600px;border-radius:50%;background:#a4a7ae"></div>
<div class="card" style="left:656px;top:804px;width:1840px;height:812px;overflow:visible"><div class="hd" style="height:84px;border-radius:24px 24px 0 0"></div></div>
<div class="t" style="left:696.505px;top:837.88px;font-size:26.5px;font-weight:700;color:#181d27;letter-spacing:-0.927px;">Sales</div>
<div class="t" style="left:698.2px;top:924.9px;font-size:60px;color:#181d27;-webkit-text-stroke:1.700px #181d27;transform:scaleX(1.100);transform-origin:0 0">$</div>
<div class="a" style="left:713.6px;top:926.2px;width:5.300px;height:57.600px;background:#181d27"></div>
<div class="t" style="left:736.6px;top:924.9px;font-size:60px;color:#181d27;-webkit-text-stroke:1.700px #181d27;transform:scaleX(1.100);transform-origin:0 0">8</div>
<svg class="a" style="left:774.6px;top:964.1px" width="14" height="24" viewBox="0 0 14 24"><path d="M7.700 0.500L12.300 2.200L4.600 23L0 21.300Z" fill="#181d27"/></svg>
<div class="t" style="left:790.8px;top:924.9px;font-size:60px;color:#181d27;-webkit-text-stroke:1.700px #181d27;transform:scaleX(1.100);transform-origin:0 0">4</div>
<div class="t" style="left:829.4px;top:924.9px;font-size:60px;color:#181d27;-webkit-text-stroke:1.700px #181d27;transform:scaleX(1.100);transform-origin:0 0">2</div>
<div class="t" style="left:865.1px;top:924.9px;font-size:60px;color:#181d27;-webkit-text-stroke:1.700px #181d27;transform:scaleX(1.100);transform-origin:0 0">2</div>
<div class="a" style="left:902.2px;top:967.0px;width:9.400px;height:9.400px;border-radius:50%;background:#181d27"></div>
<div class="t" style="left:914.0px;top:924.9px;font-size:60px;color:#181d27;-webkit-text-stroke:1.700px #181d27;transform:scaleX(1.100);transform-origin:0 0">6</div>
<div class="t" style="left:953.7px;top:924.9px;font-size:60px;color:#181d27;-webkit-text-stroke:1.700px #181d27;transform:scaleX(1.100);transform-origin:0 0">0</div>
<svg class="a" style="left:694.2px;top:1023.1px" width="36" height="26" viewBox="-4 -20 36 26" fill="none" stroke="#2563eb" stroke-width="3.600" stroke-linecap="round" stroke-linejoin="round"><path d="M0 0L8.200 -7.800L15.100 -1.900L27.100 -14.200M17.400 -14.200H27.100V-3.900"/></svg>
<div class="t" style="left:738.66px;top:1024.85px;font-size:27px;font-weight:400;color:#2563eb;letter-spacing:-1.054px;">3.2%</div>
<div class="t" style="left:816.646px;top:1024.70px;font-size:27.3px;font-weight:400;color:#535862;letter-spacing:-0.086px;">vs last 30 days</div>
<div class="a" style="left:1828px;top:928px;width:628px;height:72px;background:#fafafa;border:2px solid #e9eaeb;border-radius:16px"></div>
<div class="t" style="left:1852.28px;top:954.45px;font-size:27px;font-weight:700;color:#717680;letter-spacing:-0.6px;">12 months</div>
<div class="a" style="left:2012px;top:928px;width:148px;height:72px;background:#2563eb;border-radius:15px;box-shadow:0 1px 2px rgba(10,13,18,.1)"></div>
<div class="t" style="left:2037.96px;top:954.45px;font-size:27px;font-weight:700;color:#fff;letter-spacing:-0.528px;">30 days</div>
<div class="t" style="left:2188.82px;top:954.45px;font-size:27px;font-weight:700;color:#717680;letter-spacing:-1.062px;">7 days</div>
<div class="t" style="left:2320.69px;top:954.45px;font-size:27px;font-weight:700;color:#717680;letter-spacing:-0.257px;">24 hours</div>
<svg class="a" style="left:0;top:0" width="2560" height="1712" viewBox="0 0 2560 1712"><defs><linearGradient id="cg" gradientUnits="userSpaceOnUse" x1="0" y1="1118" x2="0" y2="1471"><stop offset="0" stop-color="#000" stop-opacity=".095"/><stop offset=".55" stop-color="#000" stop-opacity=".04"/><stop offset="1" stop-color="#000" stop-opacity=".005"/></linearGradient><linearGradient id="mg" gradientUnits="userSpaceOnUse" x1="0" y1="1228" x2="0" y2="1505"><stop offset="0" stop-color="#2563eb"/><stop offset=".35" stop-color="#2563eb" stop-opacity=".75"/><stop offset="1" stop-color="#2563eb" stop-opacity=".05"/></linearGradient></defs><path d="M836.0 1135.1 L846.2 1158.2 L856.3 1165.9 L866.0 1152.8 L875.7 1124.2 L885.9 1117.0 L897.1 1133.9 L906.8 1172.7 L916.9 1213.9 L926.6 1201.8 L936.8 1235.7 L946.5 1269.6 L956.9 1210.3 L967.1 1155.3 L977.0 1170.3 L986.7 1188.4 L996.9 1184.8 L1007.1 1177.5 L1017.5 1195.7 L1027.2 1238.6 L1037.4 1235.7 L1047.3 1229.2 L1057.5 1262.4 L1067.7 1206.6 L1077.6 1184.8 L1087.8 1196.9 L1097.9 1246.6 L1107.8 1233.3 L1118.2 1216.3 L1128.4 1188.9 L1138.0 1178.0 L1148.0 1214.4 L1158.2 1169.1 L1168.3 1172.7 L1178.0 1203.0 L1188.4 1192.1 L1198.1 1192.1 L1208.3 1205.4 L1218.3 1177.1 L1228.4 1184.3 L1238.6 1222.4 L1248.8 1242.2 L1258.7 1216.3 L1268.9 1192.1 L1278.8 1240.5 L1289.0 1261.1 L1299.2 1259.9 L1309.1 1196.9 L1319.3 1216.8 L1329.0 1226.0 L1339.2 1286.6 L1349.1 1325.4 L1359.3 1220.0 L1369.5 1199.8 L1379.4 1245.4 L1389.2 1212.7 L1399.4 1239.3 L1409.6 1254.4 L1420.0 1268.9 L1430.2 1264.8 L1439.9 1196.4 L1450.0 1219.5 L1460.0 1211.5 L1470.1 1208.6 L1480.1 1222.4 L1490.3 1189.7 L1500.4 1200.1 L1510.4 1208.3 L1520.5 1200.6 L1530.2 1217.5 L1539.9 1211.5 L1550.4 1202.5 L1560.5 1203.5 L1570.2 1223.6 L1580.4 1199.4 L1590.3 1226.5 L1600.5 1212.7 L1610.5 1220.4 L1620.6 1195.0 L1630.8 1186.5 L1641.0 1235.2 L1650.9 1230.9 L1661.1 1233.3 L1670.9 1210.7 L1681.1 1227.2 L1691.0 1214.6 L1701.2 1238.9 L1710.9 1236.2 L1721.1 1260.7 L1731.0 1255.1 L1741.7 1259.9 L1751.6 1209.0 L1761.8 1205.9 L1771.5 1250.2 L1781.9 1217.5 L1791.6 1266.0 L1801.8 1225.5 L1811.9 1213.9 L1822.4 1228.4 L1832.1 1229.6 L1842.2 1236.2 L1852.6 1267.2 L1862.3 1337.0 L1872.5 1319.3 L1882.5 1207.4 L1892.1 1259.9 L1902.3 1221.2 L1912.5 1245.4 L1922.4 1219.2 L1933.1 1235.7 L1942.8 1271.6 L1953.3 1282.2 L1963.5 1281.3 L1975.4 1278.8 L1982.9 1259.9 L1992.8 1293.9 L2003.0 1248.3 L2013.2 1287.8 L2023.6 1253.9 L2033.8 1236.2 L2043.7 1329.0 L2053.9 1359.8 L2063.6 1368.3 L2073.8 1338.7 L2083.7 1309.6 L2093.9 1279.8 L2104.1 1311.3 L2113.7 1302.3 L2124.2 1314.0 L2133.9 1292.2 L2144.3 1307.7 L2154.5 1258.7 L2164.6 1248.3 L2174.3 1302.3 L2184.3 1358.8 L2194.4 1279.8 L2204.6 1303.1 L2214.6 1278.1 L2224.7 1253.9 L2234.7 1334.6 L2244.8 1316.2 L2255.0 1284.7 L2264.9 1333.4 L2275.1 1338.7 L2285.3 1352.0 L2295.2 1360.0 L2304.9 1284.2 L2315.6 1293.9 L2325.3 1354.0 L2335.2 1306.0 L2345.4 1292.6 L2355.6 1332.6 L2365.5 1346.7 L2375.7 1274.5 L2385.9 1301.6 L2395.8 1308.4 L2406.0 1293.9 L2416.2 1299.2 L2426.1 1334.6 L2436.3 1330.9 L2446.0 1298.0 L2456.4 1300.6 L2456.4 1471 L836.0 1471Z" fill="url(#cg)"/><path d="M836.0 1135.1 L846.2 1158.2 L856.3 1165.9 L866.0 1152.8 L875.7 1124.2 L885.9 1117.0 L897.1 1133.9 L906.8 1172.7 L916.9 1213.9 L926.6 1201.8 L936.8 1235.7 L946.5 1269.6 L956.9 1210.3 L967.1 1155.3 L977.0 1170.3 L986.7 1188.4 L996.9 1184.8 L1007.1 1177.5 L1017.5 1195.7 L1027.2 1238.6 L1037.4 1235.7 L1047.3 1229.2 L1057.5 1262.4 L1067.7 1206.6 L1077.6 1184.8 L1087.8 1196.9 L1097.9 1246.6 L1107.8 1233.3 L1118.2 1216.3 L1128.4 1188.9 L1138.0 1178.0 L1148.0 1214.4 L1158.2 1169.1 L1168.3 1172.7 L1178.0 1203.0 L1188.4 1192.1 L1198.1 1192.1 L1208.3 1205.4 L1218.3 1177.1 L1228.4 1184.3 L1238.6 1222.4 L1248.8 1242.2 L1258.7 1216.3 L1268.9 1192.1 L1278.8 1240.5 L1289.0 1261.1 L1299.2 1259.9 L1309.1 1196.9 L1319.3 1216.8 L1329.0 1226.0 L1339.2 1286.6 L1349.1 1325.4 L1359.3 1220.0 L1369.5 1199.8 L1379.4 1245.4 L1389.2 1212.7 L1399.4 1239.3 L1409.6 1254.4 L1420.0 1268.9 L1430.2 1264.8 L1439.9 1196.4 L1450.0 1219.5 L1460.0 1211.5 L1470.1 1208.6 L1480.1 1222.4 L1490.3 1189.7 L1500.4 1200.1 L1510.4 1208.3 L1520.5 1200.6 L1530.2 1217.5 L1539.9 1211.5 L1550.4 1202.5 L1560.5 1203.5 L1570.2 1223.6 L1580.4 1199.4 L1590.3 1226.5 L1600.5 1212.7 L1610.5 1220.4 L1620.6 1195.0 L1630.8 1186.5 L1641.0 1235.2 L1650.9 1230.9 L1661.1 1233.3 L1670.9 1210.7 L1681.1 1227.2 L1691.0 1214.6 L1701.2 1238.9 L1710.9 1236.2 L1721.1 1260.7 L1731.0 1255.1 L1741.7 1259.9 L1751.6 1209.0 L1761.8 1205.9 L1771.5 1250.2 L1781.9 1217.5 L1791.6 1266.0 L1801.8 1225.5 L1811.9 1213.9 L1822.4 1228.4 L1832.1 1229.6 L1842.2 1236.2 L1852.6 1267.2 L1862.3 1337.0 L1872.5 1319.3 L1882.5 1207.4 L1892.1 1259.9 L1902.3 1221.2 L1912.5 1245.4 L1922.4 1219.2 L1933.1 1235.7 L1942.8 1271.6 L1953.3 1282.2 L1963.5 1281.3 L1975.4 1278.8 L1982.9 1259.9 L1992.8 1293.9 L2003.0 1248.3 L2013.2 1287.8 L2023.6 1253.9 L2033.8 1236.2 L2043.7 1329.0 L2053.9 1359.8 L2063.6 1368.3 L2073.8 1338.7 L2083.7 1309.6 L2093.9 1279.8 L2104.1 1311.3 L2113.7 1302.3 L2124.2 1314.0 L2133.9 1292.2 L2144.3 1307.7 L2154.5 1258.7 L2164.6 1248.3 L2174.3 1302.3 L2184.3 1358.8 L2194.4 1279.8 L2204.6 1303.1 L2214.6 1278.1 L2224.7 1253.9 L2234.7 1334.6 L2244.8 1316.2 L2255.0 1284.7 L2264.9 1333.4 L2275.1 1338.7 L2285.3 1352.0 L2295.2 1360.0 L2304.9 1284.2 L2315.6 1293.9 L2325.3 1354.0 L2335.2 1306.0 L2345.4 1292.6 L2355.6 1332.6 L2365.5 1346.7 L2375.7 1274.5 L2385.9 1301.6 L2395.8 1308.4 L2406.0 1293.9 L2416.2 1299.2 L2426.1 1334.6 L2436.3 1330.9 L2446.0 1298.0 L2456.4 1300.6" fill="none" stroke="#fff" stroke-width="23.500" stroke-linejoin="round" stroke-linecap="butt"/><rect x="836" y="1117" width="1620" height="2" fill="#0a0d12" fill-opacity=".042"/><rect x="836" y="1192" width="1620" height="2" fill="#0a0d12" fill-opacity=".042"/><rect x="836" y="1261" width="1620" height="2" fill="#0a0d12" fill-opacity=".042"/><rect x="836" y="1331" width="1620" height="2" fill="#0a0d12" fill-opacity=".042"/><rect x="836" y="1400" width="1620" height="2" fill="#0a0d12" fill-opacity=".042"/><rect x="836" y="1470" width="1620" height="2" fill="#0a0d12" fill-opacity=".042"/><path d="M836.0 1135.1 L846.2 1158.2 L856.3 1165.9 L866.0 1152.8 L875.7 1124.2 L885.9 1117.0 L897.1 1133.9 L906.8 1172.7 L916.9 1213.9 L926.6 1201.8 L936.8 1235.7 L946.5 1269.6 L956.9 1210.3 L967.1 1155.3 L977.0 1170.3 L986.7 1188.4 L996.9 1184.8 L1007.1 1177.5 L1017.5 1195.7 L1027.2 1238.6 L1037.4 1235.7 L1047.3 1229.2 L1057.5 1262.4 L1067.7 1206.6 L1077.6 1184.8 L1087.8 1196.9 L1097.9 1246.6 L1107.8 1233.3 L1118.2 1216.3 L1128.4 1188.9 L1138.0 1178.0 L1148.0 1214.4 L1158.2 1169.1 L1168.3 1172.7 L1178.0 1203.0 L1188.4 1192.1 L1198.1 1192.1 L1208.3 1205.4 L1218.3 1177.1 L1228.4 1184.3 L1238.6 1222.4 L1248.8 1242.2 L1258.7 1216.3 L1268.9 1192.1 L1278.8 1240.5 L1289.0 1261.1 L1299.2 1259.9 L1309.1 1196.9 L1319.3 1216.8 L1329.0 1226.0 L1339.2 1286.6 L1349.1 1325.4 L1359.3 1220.0 L1369.5 1199.8 L1379.4 1245.4 L1389.2 1212.7 L1399.4 1239.3 L1409.6 1254.4 L1420.0 1268.9 L1430.2 1264.8 L1439.9 1196.4 L1450.0 1219.5 L1460.0 1211.5 L1470.1 1208.6 L1480.1 1222.4 L1490.3 1189.7 L1500.4 1200.1 L1510.4 1208.3 L1520.5 1200.6 L1530.2 1217.5 L1539.9 1211.5 L1550.4 1202.5 L1560.5 1203.5 L1570.2 1223.6 L1580.4 1199.4 L1590.3 1226.5 L1600.5 1212.7 L1610.5 1220.4 L1620.6 1195.0 L1630.8 1186.5 L1641.0 1235.2 L1650.9 1230.9 L1661.1 1233.3 L1670.9 1210.7 L1681.1 1227.2 L1691.0 1214.6 L1701.2 1238.9 L1710.9 1236.2 L1721.1 1260.7 L1731.0 1255.1 L1741.7 1259.9 L1751.6 1209.0 L1761.8 1205.9 L1771.5 1250.2 L1781.9 1217.5 L1791.6 1266.0 L1801.8 1225.5 L1811.9 1213.9 L1822.4 1228.4 L1832.1 1229.6 L1842.2 1236.2 L1852.6 1267.2 L1862.3 1337.0 L1872.5 1319.3 L1882.5 1207.4 L1892.1 1259.9 L1902.3 1221.2 L1912.5 1245.4 L1922.4 1219.2 L1933.1 1235.7 L1942.8 1271.6 L1953.3 1282.2 L1963.5 1281.3 L1975.4 1278.8 L1982.9 1259.9 L1992.8 1293.9 L2003.0 1248.3 L2013.2 1287.8 L2023.6 1253.9 L2033.8 1236.2 L2043.7 1329.0 L2053.9 1359.8 L2063.6 1368.3 L2073.8 1338.7 L2083.7 1309.6 L2093.9 1279.8 L2104.1 1311.3 L2113.7 1302.3 L2124.2 1314.0 L2133.9 1292.2 L2144.3 1307.7 L2154.5 1258.7 L2164.6 1248.3 L2174.3 1302.3 L2184.3 1358.8 L2194.4 1279.8 L2204.6 1303.1 L2214.6 1278.1 L2224.7 1253.9 L2234.7 1334.6 L2244.8 1316.2 L2255.0 1284.7 L2264.9 1333.4 L2275.1 1338.7 L2285.3 1352.0 L2295.2 1360.0 L2304.9 1284.2 L2315.6 1293.9 L2325.3 1354.0 L2335.2 1306.0 L2345.4 1292.6 L2355.6 1332.6 L2365.5 1346.7 L2375.7 1274.5 L2385.9 1301.6 L2395.8 1308.4 L2406.0 1293.9 L2416.2 1299.2 L2426.1 1334.6 L2436.3 1330.9 L2446.0 1298.0 L2456.4 1300.6" fill="none" stroke="#2563eb" stroke-width="4" stroke-linejoin="round" stroke-linecap="round"/><path d="M836.0 1268.4 L846.2 1284.2 L856.3 1289.5 L866.0 1280.5 L871.4 1343.5 L881.8 1338.7 L892.0 1349.1 L906.0 1292.6 L916.4 1319.3 L926.6 1312.0 L936.8 1333.1 L945.5 1281.7 L956.4 1316.9 L966.6 1281.7 L977.0 1291.4 L986.7 1303.1 L996.9 1300.2 L1007.1 1296.3 L1017.5 1307.9 L1027.2 1334.6 L1037.4 1332.6 L1047.3 1328.5 L1057.5 1350.1 L1067.2 1315.7 L1077.6 1348.4 L1087.8 1355.7 L1097.9 1339.9 L1107.8 1332.6 L1118.2 1319.3 L1128.4 1272.5 L1138.0 1296.3 L1148.0 1319.3 L1158.2 1354.0 L1168.3 1293.9 L1178.0 1312.0 L1188.4 1321.7 L1198.1 1321.0 L1208.3 1313.7 L1218.3 1295.8 L1228.4 1300.6 L1238.6 1277.4 L1248.8 1274.0 L1258.7 1273.5 L1268.9 1304.8 L1278.8 1336.3 L1289.0 1349.1 L1299.2 1348.4 L1309.1 1340.4 L1319.3 1337.0 L1329.0 1327.3 L1339.2 1366.6 L1349.1 1342.3 L1359.3 1322.9 L1369.5 1310.3 L1379.4 1276.4 L1389.6 1318.1 L1399.4 1336.3 L1409.6 1360.5 L1420.0 1370.2 L1430.2 1367.3 L1439.9 1307.9 L1450.0 1323.4 L1460.0 1317.4 L1470.1 1315.7 L1480.1 1356.4 L1490.3 1335.1 L1500.4 1342.3 L1510.4 1347.2 L1520.5 1341.8 L1530.2 1321.0 L1539.9 1349.1 L1550.4 1343.5 L1560.5 1344.0 L1570.2 1325.4 L1580.4 1310.3 L1590.3 1327.8 L1600.5 1318.8 L1610.5 1324.2 L1620.6 1370.9 L1630.8 1365.3 L1641.0 1332.6 L1650.9 1329.7 L1661.1 1315.7 L1670.9 1300.6 L1681.1 1281.3 L1691.0 1304.8 L1701.2 1320.5 L1710.9 1334.6 L1721.1 1349.1 L1731.0 1346.0 L1741.7 1348.9 L1751.6 1363.7 L1761.8 1361.2 L1771.5 1341.8 L1781.9 1321.7 L1791.6 1352.0 L1801.8 1326.6 L1811.9 1320.0 L1822.4 1281.7 L1832.1 1282.2 L1842.2 1333.8 L1852.6 1353.2 L1862.3 1318.1 L1872.5 1308.4 L1882.5 1315.2 L1892.1 1270.8 L1902.3 1325.4 L1912.5 1339.4 L1922.4 1385.9 L1933.1 1396.1 L1942.8 1355.7 L1953.3 1315.7 L1963.5 1314.9 L1972.7 1313.7 L1982.9 1347.2 L1992.8 1369.0 L2003.0 1393.2 L2013.2 1366.6 L2023.6 1325.8 L2033.8 1333.8 L2043.7 1393.2 L2053.9 1411.4 L2063.6 1393.2 L2073.8 1400.0 L2083.7 1381.1 L2093.9 1325.8 L2104.1 1381.1 L2113.7 1375.0 L2124.2 1382.8 L2133.9 1368.5 L2144.3 1378.7 L2154.5 1420.4 L2164.6 1341.1 L2174.3 1374.3 L2184.3 1324.2 L2194.4 1360.5 L2204.6 1375.8 L2214.6 1360.5 L2224.7 1345.2 L2234.7 1396.1 L2244.8 1384.0 L2255.0 1364.1 L2264.9 1352.7 L2275.1 1398.5 L2285.3 1407.3 L2295.2 1412.1 L2304.9 1363.7 L2315.6 1370.2 L2325.3 1314.5 L2335.2 1377.9 L2345.4 1369.0 L2355.6 1365.8 L2365.5 1403.4 L2375.7 1342.3 L2385.9 1375.0 L2395.8 1379.4 L2406.0 1369.7 L2416.2 1373.8 L2426.1 1347.7 L2436.3 1346.0 L2446.0 1373.1 L2456.4 1374.3" fill="none" stroke="#fac515" stroke-width="4" stroke-linejoin="round" stroke-linecap="round"/><path d="M836.0 1379.5 L846.2 1384.7 L856.3 1386.4 L866.0 1383.5 L875.7 1377.1 L885.9 1375.5 L897.1 1379.3 L906.8 1387.9 L916.9 1397.0 L926.6 1394.3 L936.8 1401.9 L946.5 1409.4 L956.9 1396.2 L967.1 1384.0 L977.0 1387.3 L986.7 1391.4 L996.9 1390.6 L1007.1 1388.9 L1017.5 1393.0 L1027.2 1402.5 L1037.4 1401.9 L1047.3 1400.4 L1057.5 1407.8 L1067.7 1395.4 L1077.6 1390.6 L1087.8 1393.2 L1097.9 1404.3 L1107.8 1401.3 L1118.2 1397.6 L1128.4 1391.5 L1138.0 1389.1 L1148.0 1397.1 L1158.2 1387.1 L1168.3 1387.9 L1178.0 1394.6 L1188.4 1392.2 L1198.1 1392.2 L1208.3 1395.1 L1218.3 1388.9 L1228.4 1390.4 L1238.6 1398.9 L1248.8 1403.3 L1258.7 1397.6 L1268.9 1392.2 L1278.8 1402.9 L1289.0 1407.5 L1299.2 1407.2 L1309.1 1393.2 L1319.3 1397.7 L1329.0 1399.7 L1339.2 1413.2 L1349.1 1421.8 L1359.3 1398.4 L1369.5 1393.9 L1379.4 1404.0 L1389.2 1396.8 L1399.4 1402.7 L1409.6 1406.0 L1420.0 1409.2 L1430.2 1408.3 L1439.9 1393.1 L1450.0 1398.3 L1460.0 1396.5 L1470.1 1395.8 L1480.1 1398.9 L1490.3 1391.6 L1500.4 1394.0 L1510.4 1395.8 L1520.5 1394.1 L1530.2 1397.8 L1539.9 1396.5 L1550.4 1394.5 L1560.5 1394.7 L1570.2 1399.2 L1580.4 1393.8 L1590.3 1399.8 L1600.5 1396.8 L1610.5 1398.5 L1620.6 1392.8 L1630.8 1390.9 L1641.0 1401.7 L1650.9 1400.8 L1661.1 1401.3 L1670.9 1396.3 L1681.1 1400.0 L1691.0 1397.2 L1701.2 1402.6 L1710.9 1402.0 L1721.1 1407.4 L1731.0 1406.2 L1741.7 1407.2 L1751.6 1395.9 L1761.8 1395.2 L1771.5 1405.1 L1781.9 1397.8 L1791.6 1408.6 L1801.8 1399.6 L1811.9 1397.0 L1822.4 1400.2 L1832.1 1400.5 L1842.2 1402.0 L1852.6 1408.9 L1862.3 1424.3 L1872.5 1420.4 L1882.5 1395.6 L1892.1 1407.2 L1902.3 1398.6 L1912.5 1404.0 L1922.4 1398.2 L1933.1 1401.9 L1942.8 1409.8 L1953.3 1412.2 L1963.5 1412.0 L1975.4 1411.4 L1982.9 1407.2 L1992.8 1414.8 L2003.0 1404.7 L2013.2 1413.4 L2023.6 1405.9 L2033.8 1402.0 L2043.7 1422.6 L2053.9 1429.4 L2063.6 1431.3 L2073.8 1424.7 L2083.7 1418.3 L2093.9 1411.7 L2104.1 1418.6 L2113.7 1416.6 L2124.2 1419.2 L2133.9 1414.4 L2144.3 1417.8 L2154.5 1407.0 L2164.6 1404.7 L2174.3 1416.6 L2184.3 1429.2 L2194.4 1411.7 L2204.6 1416.8 L2214.6 1411.3 L2224.7 1405.9 L2234.7 1423.8 L2244.8 1419.7 L2255.0 1412.7 L2264.9 1423.5 L2275.1 1424.7 L2285.3 1427.7 L2295.2 1429.5 L2304.9 1412.6 L2315.6 1414.8 L2325.3 1428.1 L2335.2 1417.5 L2345.4 1414.5 L2355.6 1423.4 L2365.5 1426.5 L2375.7 1410.5 L2385.9 1416.5 L2395.8 1418.0 L2406.0 1414.8 L2416.2 1416.0 L2426.1 1423.8 L2436.3 1423.0 L2446.0 1415.7 L2456.4 1416.3" fill="none" stroke="#2563eb" stroke-width="4" stroke-linejoin="round" stroke-linecap="round"/><rect x="1974" y="1226" width="3.600" height="280" fill="url(#mg)"/><circle cx="1975.800" cy="1216" r="10.100" fill="#fff" stroke="#2563eb" stroke-width="3.600"/></svg>
<div class="t" style="right:1741px;top:1108.75px;font-size:23px;font-weight:400;color:#535862;text-align:right;letter-spacing:-0.2px;transform:scaleX(1.04);transform-origin:100% 50%;">1,000</div>
<div class="t" style="right:1741px;top:1183.75px;font-size:23px;font-weight:400;color:#535862;text-align:right;letter-spacing:-0.2px;transform:scaleX(1.12);transform-origin:100% 50%;">800</div>
<div class="t" style="right:1741px;top:1252.75px;font-size:23px;font-weight:400;color:#535862;text-align:right;letter-spacing:-0.2px;transform:scaleX(1.12);transform-origin:100% 50%;">600</div>
<div class="t" style="right:1741px;top:1322.75px;font-size:23px;font-weight:400;color:#535862;text-align:right;letter-spacing:-0.2px;transform:scaleX(1.12);transform-origin:100% 50%;">400</div>
<div class="t" style="right:1741px;top:1391.75px;font-size:23px;font-weight:400;color:#535862;text-align:right;letter-spacing:-0.2px;transform:scaleX(1.12);transform-origin:100% 50%;">200</div>
<div class="t" style="right:1741px;top:1461.75px;font-size:23px;font-weight:400;color:#535862;text-align:right;letter-spacing:-0.2px;transform:scaleX(1.12);transform-origin:100% 50%;">0</div>
<div class="t" style="left:600.0px;width:600px;text-align:center;top:1496.85px;font-size:23px;font-weight:400;color:#535862;letter-spacing:-0.2px;transform:scaleX(1.08);">2</div>
<div class="t" style="left:706.63px;width:600px;text-align:center;top:1496.85px;font-size:23px;font-weight:400;color:#535862;letter-spacing:-0.2px;transform:scaleX(1.08);">4</div>
<div class="t" style="left:813.26px;width:600px;text-align:center;top:1496.85px;font-size:23px;font-weight:400;color:#535862;letter-spacing:-0.2px;transform:scaleX(1.08);">6</div>
<div class="t" style="left:919.8899999999999px;width:600px;text-align:center;top:1496.85px;font-size:23px;font-weight:400;color:#535862;letter-spacing:-0.2px;transform:scaleX(1.08);">8</div>
<div class="t" style="left:1026.52px;width:600px;text-align:center;top:1496.85px;font-size:23px;font-weight:400;color:#535862;letter-spacing:-0.2px;transform:scaleX(1.08);">10</div>
<div class="t" style="left:1133.15px;width:600px;text-align:center;top:1496.85px;font-size:23px;font-weight:400;color:#535862;letter-spacing:-0.2px;transform:scaleX(1.08);">12</div>
<div class="t" style="left:1239.78px;width:600px;text-align:center;top:1496.85px;font-size:23px;font-weight:400;color:#535862;letter-spacing:-0.2px;transform:scaleX(1.08);">14</div>
<div class="t" style="left:1346.4099999999999px;width:600px;text-align:center;top:1496.85px;font-size:23px;font-weight:400;color:#535862;letter-spacing:-0.2px;transform:scaleX(1.08);">16</div>
<div class="t" style="left:1453.04px;width:600px;text-align:center;top:1496.85px;font-size:23px;font-weight:400;color:#535862;letter-spacing:-0.2px;transform:scaleX(1.08);">18</div>
<div class="t" style="left:1559.67px;width:600px;text-align:center;top:1496.85px;font-size:23px;font-weight:400;color:#535862;letter-spacing:-0.2px;transform:scaleX(1.08);">20</div>
<div class="t" style="left:1666.3px;width:600px;text-align:center;top:1496.85px;font-size:23px;font-weight:400;color:#535862;letter-spacing:-0.2px;transform:scaleX(1.08);">22</div>
<div class="t" style="left:1772.9299999999998px;width:600px;text-align:center;top:1496.85px;font-size:23px;font-weight:400;color:#535862;letter-spacing:-0.2px;transform:scaleX(1.08);">24</div>
<div class="t" style="left:1879.56px;width:600px;text-align:center;top:1496.85px;font-size:23px;font-weight:400;color:#535862;letter-spacing:-0.2px;transform:scaleX(1.08);">26</div>
<div class="t" style="left:1986.19px;width:600px;text-align:center;top:1496.85px;font-size:23px;font-weight:400;color:#535862;letter-spacing:-0.2px;transform:scaleX(1.08);">28</div>
<div class="t" style="left:2092.8199999999997px;width:600px;text-align:center;top:1496.85px;font-size:23px;font-weight:400;color:#535862;letter-spacing:-0.2px;transform:scaleX(1.08);">30</div>
<div class="t" style="left:1298px;width:600px;text-align:center;top:1547.97px;font-size:24.5px;font-weight:400;color:#535862;transform:scaleX(1.04);">Month</div>
<div class="t" style="left:617.5px;top:1299px;width:200px;height:24px;text-align:center;font-size:24px;color:#535862;transform:rotate(-90deg)">Active users</div>
<div class="a" style="left:1884px;top:1084px;width:184px;height:108px;background:#181d27;border-radius:15px;box-shadow:0 12px 16px -4px rgba(10,13,18,.1),0 4px 6px -2px rgba(10,13,18,.05)"></div>
<div class="t" style="left:1908.82px;top:1108.20px;font-size:24px;font-weight:700;color:#fff;letter-spacing:0.04px;">$210.44</div>
<div class="t" style="left:1909.3px;top:1149.71px;font-size:23.4px;font-weight:400;color:#d5d7da;letter-spacing:-0.099px;">Jan 24, 2025</div>
<svg class="a" style="left:1968px;top:1266px" width="31" height="29" viewBox="0 0 31 29"><path d="M1.500 13C1.500 10.500 4 9 6.600 9.400L7.700 11.400L5.700 6.600C5 4 7 3 8.500 3.200C10.200 3.400 11 5 11.600 7.400C11.800 3 13.500 1.600 15 1.800C16.700 2 17.300 4.500 17.400 7.400C17.800 3.500 19.500 2.300 21 2.500C22.600 2.800 23.200 5 23.400 7.700C24 5.200 25.200 4.400 26.300 4.700C27.900 5.200 28.100 8 28.100 10.200C28 14 26.500 17.500 25.700 18.700C24.200 20.800 23.500 22.500 23.400 25.100L21.500 25.400L18.400 22.600L15.800 25.400L10 26L9.400 23.700L5.500 20.300C3.500 18.300 1.500 16 1.500 13Z" fill="#fff" stroke="#000" stroke-width="1.700" stroke-linejoin="round"/><path d="M13 12.200V19.800M17 12.200V19.800M20.900 12.200V19.800" stroke="#000" stroke-width="1.900"/></svg>
</body></html>
